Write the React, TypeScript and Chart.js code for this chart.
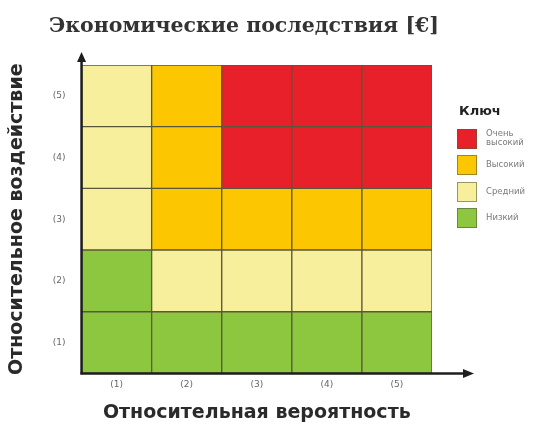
import { useEffect, useRef } from 'react';
import { Chart, registerables } from 'chart.js';

Chart.register(...registerables);

const chartTitle = 'Экономические последствия [€]';
const xAxisTitle = 'Относительная вероятность';
const yAxisTitle = 'Относительное воздействие';
const legendTitle = 'Ключ';

const likelihoodLabels = ['(1)', '(2)', '(3)', '(4)', '(5)'];
const impactLabels = ['(1)', '(2)', '(3)', '(4)', '(5)'];

// risk level per cell (0 = low, 1 = medium, 2 = high, 3 = very high), columns = likelihood 1..5
const impact1 = [0, 0, 0, 0, 0];
const impact2 = [0, 1, 1, 1, 1];
const impact3 = [1, 2, 2, 2, 2];
const impact4 = [1, 2, 3, 3, 3];
const impact5 = [1, 2, 3, 3, 3];
const impactRows = [impact1, impact2, impact3, impact4, impact5];

const levelNames = ['Низкий', 'Средний', 'Высокий', 'Очень высокий'];
const levelColors = ['#8dc63f', '#f8ef9c', '#fcc700', '#e8202a'];
const legendOrder = [3, 2, 1, 0];

const decorPlugin = {
  id: 'decor',
  afterDatasetsDraw(chart: any) {
    const { ctx, chartArea } = chart;
    const { left, right, top, bottom } = chartArea;
    ctx.save();
    ctx.strokeStyle = '#1e1e1e';
    ctx.fillStyle = '#1e1e1e';
    ctx.lineWidth = 2.5;
    // y axis with arrow
    ctx.beginPath();
    ctx.moveTo(left, bottom + 1);
    ctx.lineTo(left, top - 6);
    ctx.stroke();
    ctx.beginPath();
    ctx.moveTo(left, top - 13);
    ctx.lineTo(left - 4.5, top - 3);
    ctx.lineTo(left + 4.5, top - 3);
    ctx.closePath();
    ctx.fill();
    // x axis with arrow
    ctx.beginPath();
    ctx.moveTo(left - 1, bottom);
    ctx.lineTo(right + 34, bottom);
    ctx.stroke();
    ctx.beginPath();
    ctx.moveTo(right + 42, bottom);
    ctx.lineTo(right + 31, bottom - 4.5);
    ctx.lineTo(right + 31, bottom + 4.5);
    ctx.closePath();
    ctx.fill();
    ctx.restore();
  },
  afterDraw(chart: any) {
    const { ctx } = chart;
    ctx.save();
    // title
    ctx.fillStyle = '#333333';
    ctx.font = 'bold 20.5px "DejaVu Serif"';
    ctx.textAlign = 'center';
    ctx.textBaseline = 'middle';
    ctx.fillText(chartTitle, 244, 27);
    // legend
    const lx = 457;
    ctx.textAlign = 'left';
    ctx.fillStyle = '#222222';
    ctx.font = 'bold 13px "DejaVu Sans"';
    ctx.fillText(legendTitle, lx + 2, 112);
    const tops = [129, 155, 182, 208];
    legendOrder.forEach((lvl, i) => {
      const y = tops[i];
      ctx.fillStyle = levelColors[lvl];
      ctx.fillRect(lx, y, 20, 20);
      ctx.strokeStyle = 'rgba(90,90,60,0.6)';
      ctx.lineWidth = 1;
      ctx.strokeRect(lx + 0.5, y + 0.5, 19, 19);
      ctx.fillStyle = '#7a7a7a';
      ctx.font = '8.5px "DejaVu Sans"';
      const words = levelNames[lvl].split(' ');
      if (words.length > 1) {
        ctx.fillText(words[0], lx + 29, y + 5);
        ctx.fillText(words.slice(1).join(' '), lx + 29, y + 14);
      } else {
        ctx.fillText(levelNames[lvl], lx + 29, y + 10);
      }
    });
    ctx.restore();
  },
};

export default function App() {
  const canvasRef = useRef<HTMLCanvasElement | null>(null);

  useEffect(() => {
    document.body.style.margin = '0';
    const canvas = canvasRef.current;
    if (!canvas) return;
    const chart = new Chart(canvas, {
      type: 'bar',
      data: {
        labels: likelihoodLabels,
        datasets: impactRows.map((row, i) => ({
          label: impactLabels[i],
          data: row.map(() => 1),
          backgroundColor: row.map((lvl) => levelColors[lvl]),
          borderColor: '#5a573a',
          borderWidth: 1,
          borderSkipped: false,
          barPercentage: 1,
          categoryPercentage: 1,
        })),
      },
      options: {
        animation: false,
        responsive: false,
        maintainAspectRatio: false,
        layout: { padding: { top: 65, right: 107, left: 4, bottom: 4 } },
        plugins: {
          legend: { display: false },
          tooltip: { enabled: false },
          title: { display: false },
        },
        scales: {
          x: {
            stacked: true,
            grid: { display: false, drawTicks: false },
            border: { display: false },
            ticks: { color: '#666666', font: { size: 9, family: 'DejaVu Sans' }, padding: 6 },
            title: {
              display: true,
              text: xAxisTitle,
              color: '#2a2a2a',
              font: { size: 19, weight: 'bold', family: 'DejaVu Sans' },
              padding: { top: 5, bottom: 1 },
            },
          },
          y: {
            stacked: true,
            min: 0,
            max: 5,
            grid: { display: false, drawTicks: false },
            border: { display: false },
            afterBuildTicks: (axis: any) => {
              axis.ticks = impactLabels.map((_, i) => ({ value: i + 0.5 }));
            },
            ticks: {
              color: '#666666',
              font: { size: 9, family: 'DejaVu Sans' },
              padding: 16,
              callback: (v: any) => impactLabels[Math.floor(Number(v))],
            },
            title: {
              display: true,
              text: yAxisTitle,
              color: '#2a2a2a',
              font: { size: 19, weight: 'bold', family: 'DejaVu Sans' },
              padding: { top: 2, bottom: 8 },
            },
          },
        },
      },
      plugins: [decorPlugin],
    });
    return () => chart.destroy();
  }, []);

  return (
    <div style={{ position: 'absolute', left: 0, top: 0, width: 539, height: 429, background: '#fff' }}>
      <canvas ref={canvasRef} width={539} height={429} style={{ width: 539, height: 429 }} />
    </div>
  );
}
